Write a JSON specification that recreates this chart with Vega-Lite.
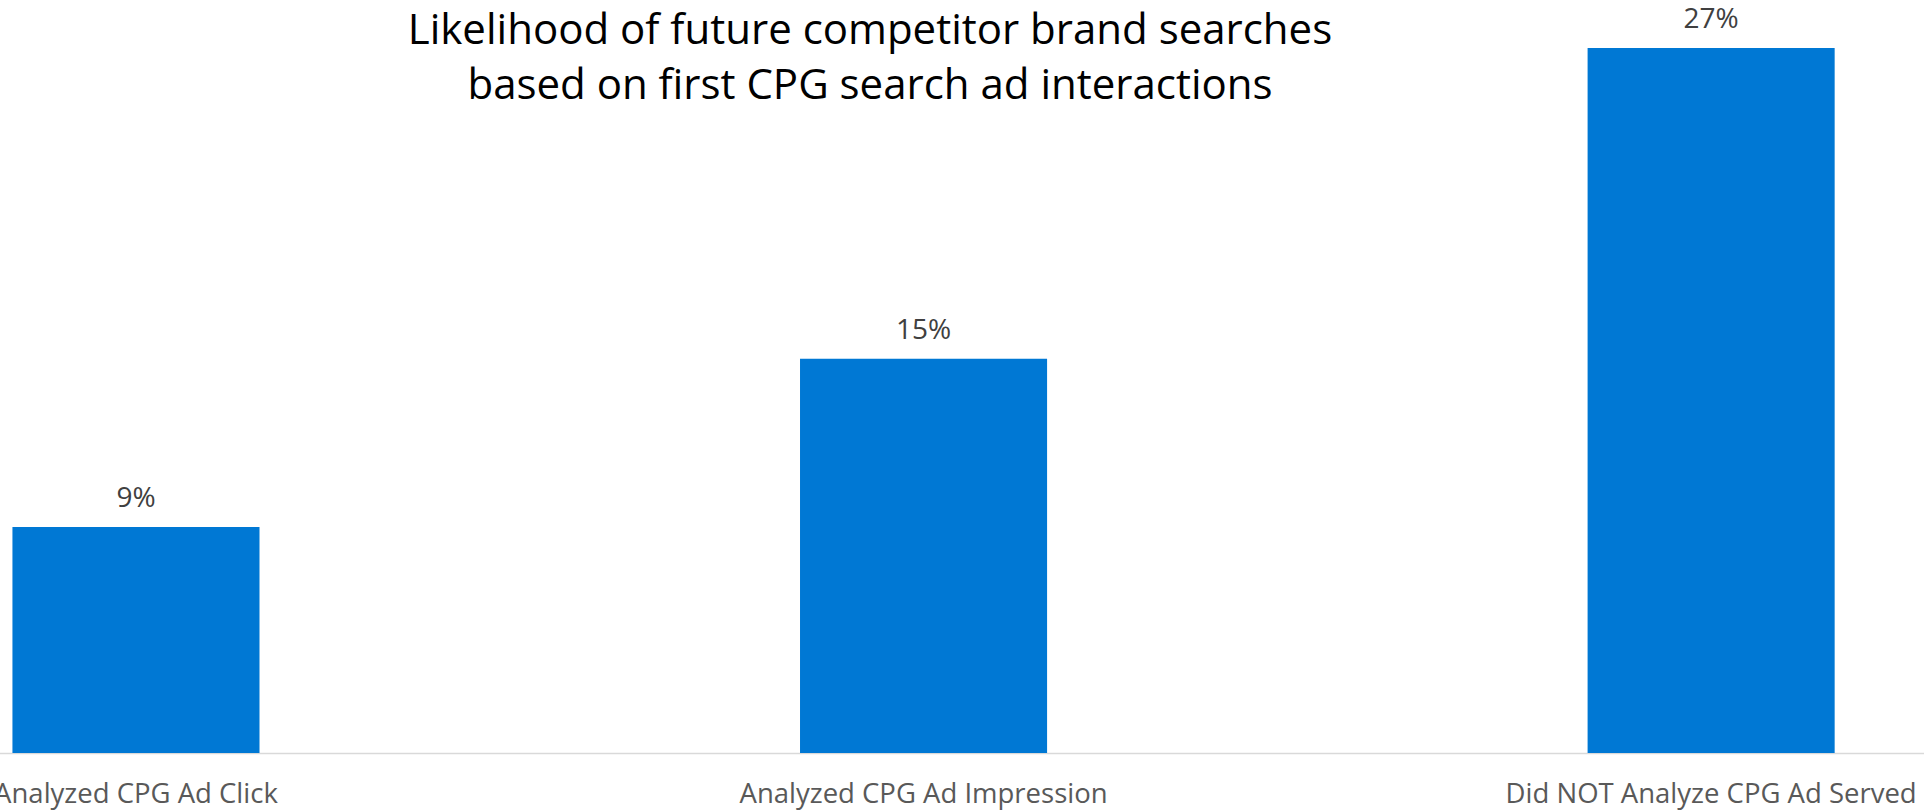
{
  "$schema": "https://vega.github.io/schema/vega-lite/v6.json",
  "width": 1924,
  "height": 753,
  "autosize": {"type": "none"},
  "padding": {"left": 0, "top": 0, "right": 0, "bottom": 57},
  "background": "white",
  "config": {"view": {"stroke": null}},
  "title": {
    "text": ["Likelihood of future competitor brand searches", "based on first CPG search ad interactions"],
    "font": "Open Sans",
    "fontSize": 42,
    "fontWeight": "normal",
    "color": "#000000",
    "lineHeight": 55,
    "anchor": "middle",
    "dx": -92,
    "offset": -108
  },
  "data": {
    "values": [
      {"category": "Analyzed CPG Ad Click", "value": 0.0866},
      {"category": "Analyzed CPG Ad Impression", "value": 0.151},
      {"category": "Did NOT Analyze CPG Ad Served", "value": 0.27}
    ]
  },
  "encoding": {
    "x": {
      "field": "category",
      "type": "nominal",
      "sort": null,
      "scale": {"range": [-257.7, 2104.8], "paddingInner": 0.6863, "paddingOuter": 0.343},
      "axis": {
        "title": null,
        "labelAngle": 0,
        "labelFont": "Open Sans",
        "labelFontSize": 27.5,
        "labelColor": "#595959",
        "labelPadding": 27,
        "labelLimit": 1000,
        "labelOverlap": false,
        "labelBound": false,
        "ticks": false,
        "domainColor": "#d9d9d9",
        "domainWidth": 1.5,
        "grid": false
      }
    },
    "y": {
      "field": "value",
      "type": "quantitative",
      "scale": {"domain": [0, 0.28838], "nice": false},
      "axis": null
    }
  },
  "layer": [
    {"mark": {"type": "bar", "color": "#0078D4"}},
    {
      "mark": {"type": "text", "dy": -20, "baseline": "alphabetic", "font": "Open Sans", "fontSize": 28, "color": "#404040"},
      "encoding": {"text": {"field": "value", "type": "quantitative", "format": ".0%"}}
    }
  ]
}
